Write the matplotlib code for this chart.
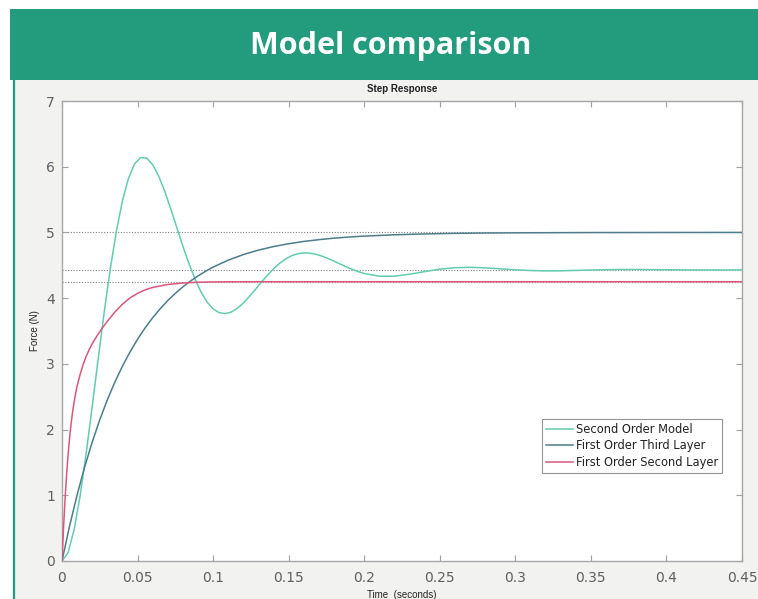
import matplotlib
matplotlib.use("Agg")
import matplotlib.pyplot as plt
from matplotlib.patches import Rectangle
from matplotlib.lines import Line2D

# ---- step response samples (time in s, force in N) ----
t_second_order = [
    0.000, 0.004, 0.008, 0.012, 0.016, 0.020, 0.024, 0.028, 0.032, 0.036,
    0.040, 0.044, 0.048, 0.052, 0.056, 0.060, 0.064, 0.068, 0.072, 0.076,
    0.080, 0.084, 0.088, 0.092, 0.096, 0.100, 0.104, 0.108, 0.112, 0.116,
    0.120, 0.124, 0.128, 0.132, 0.136, 0.140, 0.144, 0.148, 0.152, 0.156,
    0.160, 0.164, 0.168, 0.172, 0.176, 0.180, 0.184, 0.188, 0.192, 0.196,
    0.200, 0.21, 0.22, 0.23, 0.24, 0.25, 0.26, 0.27, 0.28, 0.29,
    0.30, 0.31, 0.32, 0.33, 0.34, 0.35, 0.36, 0.37, 0.38, 0.39,
    0.40, 0.41, 0.42, 0.43, 0.44, 0.45,
]
f_second_order = [
    0.000, 0.126, 0.474, 0.995, 1.639, 2.352, 3.087, 3.799, 4.452, 5.020,
    5.482, 5.824, 6.042, 6.139, 6.132, 6.032, 5.856, 5.626, 5.356, 5.072,
    4.791, 4.527, 4.293, 4.092, 3.941, 3.836, 3.779, 3.764, 3.788, 3.845,
    3.926, 4.025, 4.133, 4.244, 4.350, 4.447, 4.530, 4.597, 4.646, 4.676,
    4.688, 4.685, 4.668, 4.640, 4.604, 4.563, 4.520, 4.478, 4.439, 4.404,
    4.375, 4.334, 4.334, 4.364, 4.404, 4.441, 4.463, 4.469, 4.461, 4.446,
    4.431, 4.420, 4.415, 4.416, 4.422, 4.428, 4.433, 4.436, 4.436, 4.434,
    4.432, 4.430, 4.429, 4.429, 4.429, 4.430,
]

t_third_layer = [
    0.000, 0.005, 0.010, 0.015, 0.020, 0.025, 0.030, 0.035, 0.040, 0.045,
    0.050, 0.055, 0.060, 0.065, 0.070, 0.075, 0.080, 0.085, 0.090, 0.095,
    0.100, 0.110, 0.120, 0.130, 0.140, 0.150, 0.160, 0.170, 0.180, 0.190,
    0.200, 0.220, 0.240, 0.260, 0.280, 0.300, 0.350, 0.400, 0.450,
]
f_third_layer = [
    0.000, 0.531, 1.006, 1.431, 1.810, 2.149, 2.452, 2.723, 2.965, 3.181,
    3.374, 3.547, 3.702, 3.840, 3.963, 4.073, 4.172, 4.260, 4.338, 4.409,
    4.472, 4.578, 4.663, 4.731, 4.785, 4.828, 4.863, 4.890, 4.913, 4.930,
    4.944, 4.964, 4.977, 4.986, 4.991, 4.994, 4.998, 4.999, 5.000,
]

t_second_layer = [
    0.000, 0.001, 0.002, 0.003, 0.004, 0.005, 0.006, 0.007, 0.008, 0.009,
    0.010, 0.012, 0.014, 0.016, 0.018, 0.020, 0.023, 0.0265, 0.030, 0.035,
    0.040, 0.045, 0.050, 0.055, 0.060, 0.070, 0.080, 0.090, 0.100, 0.120,
    0.450,
]
f_second_layer = [
    0.000, 0.500, 0.930, 1.300, 1.610, 1.870, 2.085, 2.265, 2.417, 2.547,
    2.660, 2.840, 2.990, 3.114, 3.218, 3.306, 3.420, 3.539, 3.648, 3.788,
    3.908, 4.003, 4.073, 4.126, 4.163, 4.208, 4.230, 4.242, 4.247, 4.250,
    4.250,
]

# steady-state levels marked with dotted guides
steady_levels = [5.0, 4.43, 4.25]

series_labels = ["Second Order Model", "First Order Third Layer", "First Order Second Layer"]
series_colors = ["#62ccb0", "#4d7d88", "#d9577a"]

x_ticks = [0, 0.05, 0.1, 0.15, 0.2, 0.25, 0.3, 0.35, 0.4, 0.45]
x_tick_labels = ["0", "0.05", "0.1", "0.15", "0.2", "0.25", "0.3", "0.35", "0.4", "0.45"]
y_ticks = [0, 1, 2, 3, 4, 5, 6, 7]

# ---- figure / page decoration ----
W, H = 758, 599
fig = plt.figure(figsize=(W / 100, H / 100), dpi=100)
fig.patch.set_facecolor("white")


def fx(px):
    return px / W


def fy(py):
    return 1 - py / H


banner_green = "#239c7d"
fig.patches.append(Rectangle((fx(13), 0), 1 - fx(13), fy(80), transform=fig.transFigure,
                             facecolor="#f2f2f1", edgecolor="none", zorder=-3))
fig.patches.append(Rectangle((fx(10), fy(80)), 1 - fx(10), fy(9) - fy(80), transform=fig.transFigure,
                             facecolor=banner_green, edgecolor="none", zorder=-2))
fig.add_artist(Line2D([fx(13.7), fx(13.7)], [0, fy(80)], transform=fig.transFigure,
                      color=banner_green, lw=1.6, zorder=-1))
fig.text(fx(391), fy(46), "Model comparison", color="white", fontsize=22, fontweight="bold",
         family="Open Sans", ha="center", va="center", zorder=3)

# ---- axes ----
ax = fig.add_axes([fx(62), fy(561), fx(742) - fx(62), fy(101) - fy(561)])
ax.set_zorder(1)
ax.set_facecolor("white")

for lvl in steady_levels:
    ax.axhline(lvl, color="#808080", lw=0.8, linestyle=(0, (1, 1.5)), zorder=1)

ax.plot(t_second_order, f_second_order, color=series_colors[0], lw=1.1, label=series_labels[0], zorder=3)
ax.plot(t_third_layer, f_third_layer, color=series_colors[1], lw=1.1, label=series_labels[1], zorder=3)
ax.plot(t_second_layer, f_second_layer, color=series_colors[2], lw=1.1, label=series_labels[2], zorder=4)

ax.set_xlim(0, 0.45)
ax.set_ylim(0, 7)
ax.set_xticks(x_ticks)
ax.set_xticklabels(x_tick_labels)
ax.set_yticks(y_ticks)
ax.tick_params(direction="in", length=4, width=0.8, color="#a0a0a0",
               top=True, right=True, labelsize=10, labelcolor="#5f5f5f")
ax.tick_params(axis="x", pad=7)
ax.tick_params(axis="y", pad=5)
for lab in ax.get_xticklabels() + ax.get_yticklabels():
    lab.set_family("DejaVu Sans")
for sp in ax.spines.values():
    sp.set_color("#a6a6a6")
    sp.set_linewidth(1.0)

ax.set_xlabel("Time  (seconds)", fontsize=7, family="Liberation Sans", color="#222222")
ax.xaxis.set_label_coords(0.5, -0.063)
ax.set_ylabel("Force (N)", fontsize=7, family="Liberation Sans", color="#222222")
ax.yaxis.set_label_coords(-0.033, 0.5)
ax.text(0.5, 1.026, "Step Response", transform=ax.transAxes, ha="center", va="center",
        fontsize=7, fontweight="bold", family="Liberation Sans", color="#222222")

leg = ax.legend(loc="upper right", bbox_to_anchor=(0.971, 0.309), borderaxespad=0,
                fancybox=False, frameon=True, prop={"family": "DejaVu Sans", "size": 8.3},
                handlelength=2.3, handletextpad=0.3, labelspacing=0.3, borderpad=0.35)
leg.get_frame().set_edgecolor("#7a7a7a")
leg.get_frame().set_linewidth(0.8)
for txt in leg.get_texts():
    txt.set_color("#222222")

fig.savefig("out.png", dpi=100, facecolor=fig.get_facecolor())
